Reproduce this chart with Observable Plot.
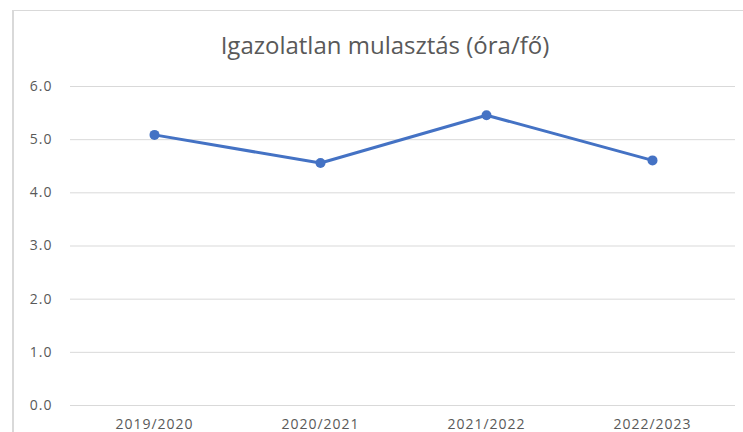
<!DOCTYPE html>
<html>
<head>
<meta charset="utf-8">
<script src="https://cdn.jsdelivr.net/npm/d3@7"></script>
<script src="https://cdn.jsdelivr.net/npm/@observablehq/plot@0.6"></script>
<style>
  html, body { margin: 0; padding: 0; background: #fff; }
  #wrap { position: relative; width: 743px; height: 432px; overflow: hidden; font-family: "Open Sans", "Noto Sans", sans-serif; }
  #frame { position: absolute; left: 12px; top: 10px; width: 740px; height: 430px; border-left: 2px solid #d9d9d9; border-top: 1px solid #d9d9d9; box-sizing: border-box; }
  #title { position: absolute; left: 0; top: 0; width: 770px; height: 62px; line-height: 90px; text-align: center; font-size: 24px; color: #595959; }
  #chart { position: absolute; left: 0; top: 62px; }
  #chart text { letter-spacing: 1px; }
</style>
</head>
<body>
<div id="wrap">
  <div id="frame"></div>
  <div id="title">Igazolatlan mulasztás (óra/fő)</div>
  <div id="chart"></div>
</div>
<script>
const years = ["2019/2020", "2020/2021", "2021/2022", "2022/2023"];
const values = [5.09, 4.56, 5.46, 4.61];
const yTicks = [0, 1, 2, 3, 4, 5, 6];

const data = years.map((y, i) => ({year: y, value: values[i]}));

const chart = Plot.plot({
  width: 743,
  height: 370,
  marginLeft: 70,
  marginRight: 8,
  marginTop: 24,
  marginBottom: 27,
  style: {fontFamily: "'Open Sans', 'Noto Sans', sans-serif", fontSize: "14px", color: "#595959", background: "transparent"},
  x: {type: "band", domain: years, padding: 0, label: null, tickSize: 0, tickPadding: 14},
  y: {domain: [0, 6], ticks: yTicks, tickFormat: d => d.toFixed(1), label: null, tickSize: 0, tickPadding: 18},
  marks: [
    Plot.ruleY(yTicks, {stroke: "#d9d9d9", strokeWidth: 1}),
    Plot.axisY({ticks: yTicks, tickFormat: d => d.toFixed(1), tickSize: 0, tickPadding: 18, label: null, fill: "#595959", fontSize: 14}),
    Plot.axisX({tickSize: 0, tickPadding: 14, label: null, fill: "#595959", fontSize: 14}),
    Plot.line(data, {x: "year", y: "value", stroke: "#4472C4", strokeWidth: 3}),
    Plot.dot(data, {x: "year", y: "value", fill: "#4472C4", r: 5})
  ]
});
document.getElementById("chart").appendChild(chart);
</script>
</body>
</html>
